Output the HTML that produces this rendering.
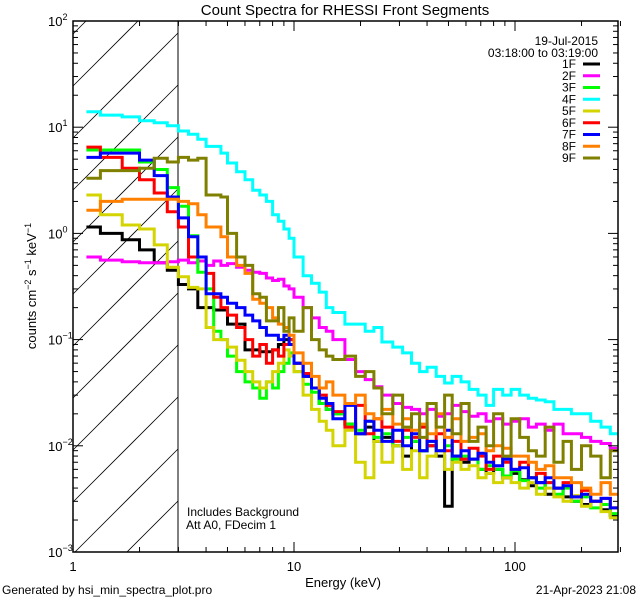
<!DOCTYPE html>
<html><head><meta charset="utf-8"><style>
html,body{margin:0;padding:0;background:#fff;width:640px;height:600px;overflow:hidden;}
svg{display:block;font-family:"Liberation Sans",sans-serif;}
</style></head><body>
<svg id="chart" width="640" height="600" viewBox="0 0 640 600">
<rect width="640" height="600" fill="#fff"/>
<defs><clipPath id="pc"><rect x="73" y="21" width="545" height="531"/></clipPath></defs>
<g id="hatch"></g>
<line x1="178" y1="21" x2="178" y2="552" stroke="#000" stroke-width="1"/>
<g id="series" clip-path="url(#pc)"></g>
<rect x="73" y="21" width="545" height="531" fill="none" stroke="#000" stroke-width="1.5"/>
<g id="ticks" stroke="#000" stroke-width="1"></g>
<g id="labels" font-size="13" fill="#000"></g>
<text x="345" y="15" font-size="15" text-anchor="middle">Count Spectra for RHESSI Front Segments</text>
<text x="343" y="587" font-size="13" text-anchor="middle">Energy (keV)</text>
<text transform="translate(36,286) rotate(-90)" font-size="13" text-anchor="middle">counts cm<tspan font-size="9" dy="-5">−2</tspan><tspan dy="5"> s</tspan><tspan font-size="9" dy="-5">−1</tspan><tspan dy="5"> keV</tspan><tspan font-size="9" dy="-5">−1</tspan></text>
<text x="2" y="594" font-size="12">Generated by hsi_min_spectra_plot.pro</text>
<text x="636" y="594" font-size="12" text-anchor="end">21-Apr-2023 21:08</text>
<text x="187" y="516" font-size="12">Includes Background</text>
<text x="186" y="529" font-size="12">Att A0, FDecim 1</text>
<text x="598" y="45" font-size="12" text-anchor="end">19-Jul-2015</text>
<text x="598" y="57" font-size="12" text-anchor="end">03:18:00 to 03:19:00</text>
<g id="legend" font-size="12"></g>
</svg>
<script>
const edges=[1.15,1.33,1.67,2,2.33,2.67,3,3.33,3.67,4,4.33,4.67,5,5.5,6,6.5,7,7.5,8,8.5,9,9.5,10,11,12,13,14,15,17,19,21,23,25,28,31,34,37,40,44,48,52,57,62,68,74,80,88,96,105,115,125,137,150,165,180,200,220,245,270,300];
const seriesNames=["1F","2F","3F","4F","5F","6F","7F","8F","9F"];
const s1F=[1.15,1.0,0.87,0.7,0.53,0.45,0.33,0.3,0.2,0.2,0.19,0.19,0.14,0.14,0.08,0.08,0.077,0.077,0.08,0.09,0.1,0.1,0.06,0.045,0.035,0.025,0.022,0.02,0.016,0.013,0.015,0.011,0.012,0.01,0.008,0.011,0.009,0.01,0.008,0.0027,0.008,0.007,0.0075,0.006,0.0055,0.006,0.005,0.0055,0.0048,0.0042,0.0045,0.0035,0.004,0.0033,0.003,0.0028,0.003,0.0025,0.0022];
const s2F=[0.6,0.56,0.54,0.53,0.53,0.54,0.56,0.53,0.55,0.5,0.55,0.5,0.52,0.48,0.45,0.43,0.42,0.38,0.36,0.37,0.32,0.3,0.25,0.2,0.16,0.13,0.12,0.1,0.065,0.05,0.042,0.036,0.03,0.025,0.023,0.022,0.02,0.022,0.019,0.02,0.024,0.021,0.019,0.02,0.017,0.018,0.016,0.017,0.018,0.015,0.016,0.014,0.016,0.013,0.013,0.012,0.011,0.0105,0.0095];
const s3F=[6.1,6.1,6.1,4.7,4.0,2.7,1.8,0.95,0.43,0.3,0.12,0.1,0.07,0.05,0.04,0.035,0.028,0.04,0.035,0.05,0.06,0.075,0.05,0.038,0.032,0.025,0.022,0.02,0.016,0.014,0.017,0.012,0.013,0.01,0.012,0.011,0.009,0.011,0.009,0.01,0.0075,0.008,0.0075,0.006,0.0065,0.006,0.0052,0.0058,0.0047,0.005,0.004,0.0045,0.0035,0.004,0.003,0.0033,0.0026,0.0028,0.0023];
const s4F=[14,13,12.5,11.5,11,10.3,9.2,8.6,7.7,6.6,6.6,5.7,4.6,3.8,3.2,2.55,2.3,2.0,1.5,1.3,1.1,0.9,0.6,0.4,0.34,0.28,0.2,0.18,0.14,0.14,0.12,0.13,0.095,0.085,0.075,0.06,0.05,0.055,0.045,0.039,0.045,0.04,0.034,0.03,0.024,0.034,0.03,0.034,0.03,0.028,0.027,0.026,0.022,0.022,0.02,0.02,0.017,0.015,0.013];
const s5F=[2.3,1.5,1.2,1.1,0.78,0.48,0.39,0.31,0.3,0.13,0.1,0.1,0.085,0.064,0.05,0.04,0.035,0.04,0.05,0.06,0.08,0.07,0.05,0.03,0.022,0.017,0.014,0.01,0.014,0.007,0.005,0.011,0.007,0.01,0.006,0.009,0.005,0.008,0.009,0.006,0.007,0.006,0.0065,0.005,0.0055,0.0045,0.005,0.0045,0.004,0.0045,0.0035,0.004,0.0033,0.003,0.0034,0.0027,0.003,0.0024,0.0021];
const s6F=[6.5,5.2,4.1,3.2,2.4,1.6,1.15,0.6,0.6,0.42,0.25,0.2,0.17,0.13,0.1,0.07,0.09,0.06,0.08,0.07,0.09,0.1,0.06,0.048,0.035,0.03,0.024,0.021,0.015,0.024,0.013,0.018,0.015,0.011,0.014,0.012,0.015,0.01,0.013,0.009,0.011,0.0075,0.0095,0.008,0.006,0.008,0.007,0.006,0.007,0.005,0.0055,0.0045,0.004,0.0045,0.0033,0.0038,0.003,0.0032,0.0026];
const s7F=[5.2,5.7,5.7,4.9,3.5,2.2,1.4,0.93,0.6,0.27,0.27,0.25,0.22,0.2,0.17,0.15,0.13,0.11,0.11,0.1,0.11,0.09,0.06,0.045,0.035,0.028,0.025,0.018,0.024,0.013,0.017,0.014,0.011,0.014,0.01,0.013,0.009,0.011,0.009,0.014,0.008,0.009,0.0075,0.0085,0.007,0.0065,0.0075,0.006,0.0062,0.005,0.0045,0.005,0.004,0.0042,0.0033,0.0035,0.003,0.0032,0.0026];
const s8F=[1.65,2.0,2.1,2.1,2.1,2.1,2.0,1.9,1.5,1.15,1.15,0.93,0.6,0.5,0.42,0.24,0.22,0.2,0.16,0.14,0.13,0.11,0.075,0.06,0.045,0.035,0.04,0.03,0.025,0.03,0.02,0.018,0.022,0.016,0.018,0.014,0.016,0.013,0.02,0.012,0.018,0.011,0.012,0.013,0.009,0.01,0.0095,0.008,0.008,0.007,0.006,0.0065,0.005,0.005,0.0045,0.004,0.0035,0.0045,0.0035];
const s9F=[3.3,3.9,3.9,4.1,5.1,4.7,5.2,4.9,5.1,2.3,2.3,2.2,1.0,0.6,0.5,0.27,0.25,0.15,0.15,0.2,0.12,0.16,0.12,0.2,0.1,0.08,0.07,0.065,0.07,0.045,0.05,0.035,0.02,0.03,0.015,0.02,0.012,0.025,0.015,0.03,0.013,0.025,0.011,0.015,0.01,0.02,0.008,0.018,0.012,0.009,0.008,0.015,0.007,0.011,0.006,0.01,0.008,0.005,0.009];
const xTickLabels=["1","10","100"];
const yTickExps=[-3,-2,-1,0,1,2];

const NS="http://www.w3.org/2000/svg";
const X0=73,X1=618,Y0=552,Y1=21;
function xs(e){return X0+Math.log10(e)*221;}
function ys(v){return Y0-(Math.log10(v)+3)*(531/5);}
const colors=["#000000","#ff00ff","#00ff00","#00ffff","#d4d400","#ff0000","#0000ff","#ff8000","#808000"];
const allSeries=[s1F,s2F,s3F,s4F,s5F,s6F,s7F,s8F,s9F];
const sg=document.getElementById('series');
allSeries.forEach((vals,i)=>{
  let d="";
  for(let b=0;b<vals.length;b++){
    const xa=xs(edges[b]).toFixed(1),xb=xs(edges[b+1]).toFixed(1),y=ys(vals[b]).toFixed(1);
    d+=(b===0?"M"+xa+","+y:"L"+xa+","+y)+"L"+xb+","+y;
  }
  const p=document.createElementNS(NS,'path');
  p.setAttribute('d',d);p.setAttribute('fill','none');p.setAttribute('stroke',colors[i]);
  p.setAttribute('stroke-width','3');p.setAttribute('stroke-linejoin','miter');
  
  
  sg.appendChild(p);
});
// hatch lines clipped analytically to the hatch box (x 73..178, y 21..552), line: y = c - (x-73)
const hg=document.getElementById('hatch');
const HX0=73,HX1=178,HY0=21,HY1=552;
for(let c=86-52*2;c<HY1+(HX1-HX0);c+=52){
  let xa=HX0, ya=c;
  if(ya>HY1){xa=HX0+(ya-HY1);ya=HY1;}
  let xb=HX1, yb=c-(HX1-HX0);
  if(yb<HY0){xb=HX0+(c-HY0);yb=HY0;}
  if(xa>=xb) continue;
  const l=document.createElementNS(NS,'line');
  l.setAttribute('x1',xa);l.setAttribute('y1',ya);l.setAttribute('x2',xb);l.setAttribute('y2',yb);
  l.setAttribute('stroke','#000');l.setAttribute('stroke-width','0.8');
  
  
  hg.appendChild(l);
}
const tg=document.getElementById('ticks');
function tick(x1,y1,x2,y2){const l=document.createElementNS(NS,'line');l.setAttribute('x1',x1);l.setAttribute('y1',y1);l.setAttribute('x2',x2);l.setAttribute('y2',y2);
  
  
  tg.appendChild(l);}
for(let dec=1;dec<=100;dec*=10){for(let m=1;m<=9;m++){const e=dec*m;if(e>300)break;const x=xs(e);const L=m===1?10:5;tick(x,Y0,x,Y0-L);tick(x,Y1,x,Y1+L);}}
for(let p=-3;p<=2;p++){for(let m=1;m<=9;m++){const v=Math.pow(10,p)*m;if(v>100.0001)break;const y=ys(v);const L=m===1?10:5;tick(X0,y,X0+L,y);tick(X1,y,X1-L,y);}}
const lg=document.getElementById('labels');
xTickLabels.forEach(t=>{const e=parseFloat(t);const tx=document.createElementNS(NS,'text');tx.setAttribute('x',xs(e));tx.setAttribute('y',571);tx.setAttribute('text-anchor','middle');tx.textContent=t;
  
  
  lg.appendChild(tx);});
yTickExps.forEach(p=>{const y=ys(Math.pow(10,p));const tx=document.createElementNS(NS,'text');tx.setAttribute('x',48);tx.setAttribute('y',y+5);
  tx.innerHTML='10<tspan font-size="9" dy="-6">'+(p<0?'−'+(-p):p)+'</tspan>';
  
  
  lg.appendChild(tx);});
const leg=document.getElementById('legend');
seriesNames.forEach((n,i)=>{const y=64+i*11.75;
  const t=document.createElementNS(NS,'text');t.setAttribute('x',576);t.setAttribute('y',y+4);t.setAttribute('text-anchor','end');t.textContent=n;
  
  
  leg.appendChild(t);
  const l=document.createElementNS(NS,'line');l.setAttribute('x1',583);l.setAttribute('x2',600);l.setAttribute('y1',y);l.setAttribute('y2',y);l.setAttribute('stroke',colors[i]);l.setAttribute('stroke-width','3');
  
  
  leg.appendChild(l);});
</script>
</body></html>
